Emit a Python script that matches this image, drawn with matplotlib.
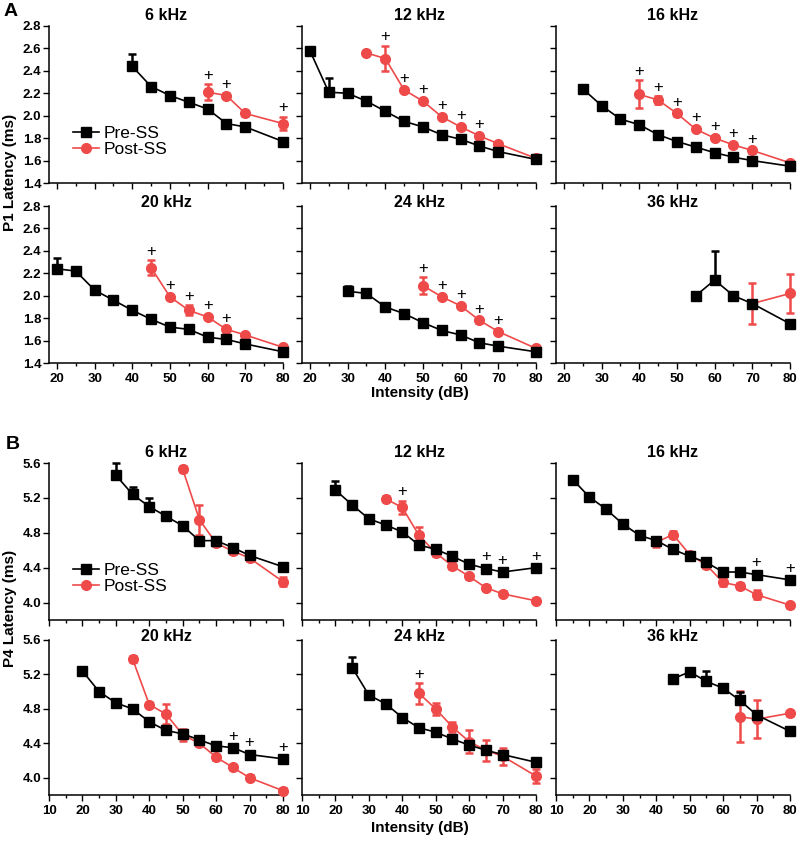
import matplotlib
matplotlib.use("Agg")
import matplotlib.pyplot as plt
from matplotlib.lines import Line2D
from matplotlib.ticker import MultipleLocator

plt.rcParams['font.family'] = ['Liberation Sans', 'DejaVu Sans']

FREQS = ["6 kHz", "12 kHz", "16 kHz", "20 kHz", "24 kHz", "36 kHz"]

# ---------------- P1 latency (panel A) ----------------
P1_PRE_DB = {
    "6 kHz": [40, 45, 50, 55, 60, 65, 70, 80],
    "12 kHz": [20, 25, 30, 35, 40, 45, 50, 55, 60, 65, 70, 80],
    "16 kHz": [25, 30, 35, 40, 45, 50, 55, 60, 65, 70, 80],
    "20 kHz": [20, 25, 30, 35, 40, 45, 50, 55, 60, 65, 70, 80],
    "24 kHz": [30, 35, 40, 45, 50, 55, 60, 65, 70, 80],
    "36 kHz": [55, 60, 65, 70, 80],
}
P1_PRE_MS = {
    "6 kHz": [2.44, 2.26, 2.18, 2.12, 2.06, 1.93, 1.90, 1.77],
    "12 kHz": [2.58, 2.21, 2.20, 2.13, 2.04, 1.95, 1.90, 1.83, 1.79, 1.73, 1.68, 1.61],
    "16 kHz": [2.24, 2.09, 1.97, 1.92, 1.83, 1.77, 1.72, 1.67, 1.63, 1.60, 1.55],
    "20 kHz": [2.24, 2.22, 2.05, 1.96, 1.87, 1.79, 1.72, 1.70, 1.63, 1.61, 1.57, 1.50],
    "24 kHz": [2.04, 2.02, 1.90, 1.84, 1.76, 1.69, 1.65, 1.58, 1.55, 1.50],
    "36 kHz": [2.00, 2.14, 2.00, 1.93, 1.75],
}
P1_PRE_ERR = {
    "6 kHz": [0.11, 0.02, 0.02, 0.02, 0.02, 0.02, 0.02, 0.02],
    "12 kHz": [0.02, 0.13, 0.02, 0.02, 0.02, 0.02, 0.02, 0.02, 0.02, 0.02, 0.02, 0.02],
    "16 kHz": [0.02, 0.02, 0.02, 0.02, 0.02, 0.02, 0.02, 0.02, 0.02, 0.02, 0.02],
    "20 kHz": [0.095, 0.02, 0.02, 0.02, 0.02, 0.02, 0.02, 0.02, 0.02, 0.02, 0.02, 0.02],
    "24 kHz": [0.05, 0.02, 0.02, 0.02, 0.02, 0.02, 0.02, 0.02, 0.02, 0.02],
    "36 kHz": [0.02, 0.26, 0.02, 0.02, 0.02],
}
P1_POST_DB = {
    "6 kHz": [60, 65, 70, 80],
    "12 kHz": [35, 40, 45, 50, 55, 60, 65, 70, 80],
    "16 kHz": [40, 45, 50, 55, 60, 65, 70, 80],
    "20 kHz": [45, 50, 55, 60, 65, 70, 80],
    "24 kHz": [50, 55, 60, 65, 70, 80],
    "36 kHz": [70, 80],
}
P1_POST_MS = {
    "6 kHz": [2.21, 2.18, 2.02, 1.93],
    "12 kHz": [2.56, 2.51, 2.23, 2.13, 1.99, 1.90, 1.82, 1.75, 1.62],
    "16 kHz": [2.19, 2.14, 2.02, 1.88, 1.80, 1.74, 1.69, 1.58],
    "20 kHz": [2.25, 1.99, 1.87, 1.81, 1.70, 1.65, 1.54],
    "24 kHz": [2.09, 1.99, 1.91, 1.78, 1.68, 1.53],
    "36 kHz": [1.93, 2.02],
}
P1_POST_ERR = {
    "6 kHz": [0.07, 0.02, 0.02, 0.06],
    "12 kHz": [0.02, 0.115, 0.02, 0.02, 0.02, 0.02, 0.02, 0.02, 0.02],
    "16 kHz": [0.125, 0.035, 0.02, 0.02, 0.02, 0.02, 0.02, 0.02],
    "20 kHz": [0.065, 0.02, 0.045, 0.02, 0.02, 0.02, 0.02],
    "24 kHz": [0.075, 0.02, 0.02, 0.02, 0.02, 0.02],
    "36 kHz": [0.18, 0.175],
}
P1_SIG = {
    "6 kHz": [60, 65, 80],
    "12 kHz": [40, 45, 50, 55, 60, 65],
    "16 kHz": [40, 45, 50, 55, 60, 65, 70],
    "20 kHz": [45, 50, 55, 60, 65],
    "24 kHz": [50, 55, 60, 65, 70],
    "36 kHz": [],
}

# ---------------- P4 latency (panel B) ----------------
P4_PRE_DB = {
    "6 kHz": [30, 35, 40, 45, 50, 55, 60, 65, 70, 80],
    "12 kHz": [20, 25, 30, 35, 40, 45, 50, 55, 60, 65, 70, 80],
    "16 kHz": [15, 20, 25, 30, 35, 40, 45, 50, 55, 60, 65, 70, 80],
    "20 kHz": [20, 25, 30, 35, 40, 45, 50, 55, 60, 65, 70, 80],
    "24 kHz": [25, 30, 35, 40, 45, 50, 55, 60, 65, 70, 80],
    "36 kHz": [45, 50, 55, 60, 65, 70, 80],
}
P4_PRE_MS = {
    "6 kHz": [5.46, 5.24, 5.10, 4.99, 4.88, 4.71, 4.71, 4.63, 4.54, 4.41],
    "12 kHz": [5.29, 5.12, 4.96, 4.89, 4.81, 4.66, 4.61, 4.53, 4.44, 4.39, 4.35, 4.40],
    "16 kHz": [5.41, 5.21, 5.07, 4.90, 4.77, 4.71, 4.61, 4.53, 4.46, 4.35, 4.35, 4.32, 4.26],
    "20 kHz": [5.24, 5.00, 4.87, 4.80, 4.65, 4.55, 4.51, 4.44, 4.37, 4.35, 4.27, 4.22],
    "24 kHz": [5.28, 4.96, 4.86, 4.70, 4.58, 4.53, 4.45, 4.38, 4.32, 4.27, 4.18],
    "36 kHz": [5.15, 5.23, 5.12, 5.04, 4.90, 4.73, 4.54],
}
P4_PRE_ERR = {
    "6 kHz": [0.135, 0.09, 0.10, 0.04, 0.03, 0.03, 0.03, 0.03, 0.03, 0.03],
    "12 kHz": [0.10, 0.03, 0.03, 0.03, 0.03, 0.03, 0.03, 0.03, 0.03, 0.03, 0.03, 0.03],
    "16 kHz": [0.03, 0.03, 0.04, 0.03, 0.03, 0.03, 0.03, 0.03, 0.03, 0.03, 0.03, 0.03, 0.03],
    "20 kHz": [0.03, 0.03, 0.03, 0.03, 0.03, 0.03, 0.03, 0.03, 0.03, 0.03, 0.03, 0.03],
    "24 kHz": [0.12, 0.03, 0.03, 0.03, 0.03, 0.03, 0.03, 0.03, 0.03, 0.03, 0.03],
    "36 kHz": [0.03, 0.03, 0.12, 0.03, 0.10, 0.03, 0.03],
}
P4_POST_DB = {
    "6 kHz": [50, 55, 60, 65, 70, 80],
    "12 kHz": [35, 40, 45, 50, 55, 60, 65, 70, 80],
    "16 kHz": [40, 45, 50, 55, 60, 65, 70, 80],
    "20 kHz": [35, 40, 45, 50, 55, 60, 65, 70, 80],
    "24 kHz": [45, 50, 55, 60, 65, 70, 80],
    "36 kHz": [65, 70, 80],
}
P4_POST_MS = {
    "6 kHz": [5.53, 4.95, 4.68, 4.59, 4.51, 4.24],
    "12 kHz": [5.19, 5.09, 4.77, 4.57, 4.42, 4.30, 4.17, 4.10, 4.02],
    "16 kHz": [4.69, 4.78, 4.55, 4.43, 4.23, 4.19, 4.09, 3.97],
    "20 kHz": [5.38, 4.85, 4.74, 4.50, 4.40, 4.24, 4.12, 4.00, 3.85],
    "24 kHz": [4.98, 4.80, 4.59, 4.42, 4.32, 4.25, 4.02],
    "36 kHz": [4.71, 4.68, 4.75],
}
P4_POST_ERR = {
    "6 kHz": [0.03, 0.17, 0.03, 0.03, 0.03, 0.05],
    "12 kHz": [0.03, 0.08, 0.10, 0.04, 0.03, 0.03, 0.03, 0.03, 0.03],
    "16 kHz": [0.05, 0.045, 0.03, 0.03, 0.04, 0.03, 0.05, 0.03],
    "20 kHz": [0.03, 0.03, 0.12, 0.07, 0.03, 0.03, 0.03, 0.03, 0.03],
    "24 kHz": [0.12, 0.07, 0.06, 0.13, 0.12, 0.10, 0.08],
    "36 kHz": [0.30, 0.22, 0.03],
}
P4_SIG = {
    "6 kHz": [],
    "12 kHz": [40, 65, 70, 80],
    "16 kHz": [70, 80],
    "20 kHz": [65, 70, 80],
    "24 kHz": [45],
    "36 kHz": [],
}

RED = "#EF4A4A"
W, H = 798, 843
fig = plt.figure(figsize=(W / 100, H / 100), dpi=100)

COL_LEFT = [49, 302, 556]
COL_W = 234
ROWS = [(26, 183), (206, 363), (463, 620), (640, 795)]


def make_ax(col, row):
    top, bot = ROWS[row]
    return fig.add_axes([COL_LEFT[col] / W, 1 - bot / H, COL_W / W, (bot - top) / H])


def draw(ax, pre_x, pre_y, pre_e, post_x, post_y, post_e, sig):
    c1 = ax.errorbar(post_x, post_y, yerr=post_e, color=RED, marker='o', ms=7,
                     lw=1.2, elinewidth=1.8, capsize=3.2, capthick=1.8, zorder=3)
    c2 = ax.errorbar(pre_x, pre_y, yerr=[[0] * len(pre_e), pre_e], color='black',
                     marker='s', ms=7.5, lw=1.2, elinewidth=1.8, capsize=3.2,
                     capthick=1.8, zorder=4)
    for c in (c1, c2):
        for art in c.get_children():
            art.set_clip_on(False)
    for x in sig:
        tops = []
        for xs, ys, es in ((pre_x, pre_y, pre_e), (post_x, post_y, post_e)):
            if x in xs:
                i = xs.index(x)
                tops.append(ys[i] + es[i])
        ax.annotate('+', xy=(x, max(tops)), xytext=(0, 6.5), textcoords='offset points',
                    ha='center', va='center', fontsize=12, zorder=5)


def style(ax, show_x, show_y):
    for s in ('top', 'right'):
        ax.spines[s].set_visible(False)
    for s in ('left', 'bottom'):
        ax.spines[s].set_linewidth(1.1)
    ax.xaxis.set_minor_locator(MultipleLocator(5))
    ax.tick_params(which='major', length=4, width=1.0, labelsize=9.5)
    ax.tick_params(axis='x', which='major', pad=3)
    ax.tick_params(axis='y', which='major', pad=1.5)
    ax.tick_params(which='minor', length=2.5, width=1.0)
    ax.tick_params(axis='y', which='minor', left=False)
    ax.tick_params(labelbottom=show_x, labelleft=show_y)
    for lab in ax.get_xticklabels() + ax.get_yticklabels():
        lab.set_fontweight('bold')


legend_handles = [
    Line2D([], [], color='black', marker='s', ms=7.5, lw=1.2, label='Pre-SS'),
    Line2D([], [], color=RED, marker='o', ms=7, lw=1.2, label='Post-SS'),
]

panels = [
    (P1_PRE_DB, P1_PRE_MS, P1_PRE_ERR, P1_POST_DB, P1_POST_MS, P1_POST_ERR, P1_SIG,
     0, (17.9, 80), [20, 30, 40, 50, 60, 70, 80], (1.4, 2.8), [1.4, 1.6, 1.8, 2.0, 2.2, 2.4, 2.6, 2.8], '{:.1f}'),
    (P4_PRE_DB, P4_PRE_MS, P4_PRE_ERR, P4_POST_DB, P4_POST_MS, P4_POST_ERR, P4_SIG,
     2, (10, 80), [10, 20, 30, 40, 50, 60, 70, 80], (3.8, 5.6), [4.0, 4.4, 4.8, 5.2, 5.6], '{:.1f}'),
]

for (pre_db, pre_ms, pre_err, post_db, post_ms, post_err, sig,
     row0, xlim, xticks, ylim, yticks, yfmt) in panels:
    for k, f in enumerate(FREQS):
        col = k % 3
        row = row0 + k // 3
        ax = make_ax(col, row)
        ax.set_xlim(*xlim)
        ax.set_ylim(*ylim)
        ax.set_xticks(xticks)
        ax.set_yticks(yticks)
        ax.set_yticklabels([yfmt.format(v) for v in yticks])
        draw(ax, pre_db[f], pre_ms[f], pre_err[f], post_db[f], post_ms[f], post_err[f], sig[f])
        style(ax, show_x=(k // 3 == 1), show_y=(col == 0))
        top, bot = ROWS[row]
        dy = 10.5 if k // 3 == 0 else 3.5
        ax.text(0.5, 1 + dy / (bot - top), f, transform=ax.transAxes, ha='center',
                va='center', fontsize=11.5, fontweight='bold')
        if k == 0:
            ax.legend(handles=legend_handles, loc='center left',
                      bbox_to_anchor=(0.065, 0.265), frameon=False, fontsize=12.5,
                      borderpad=0, labelspacing=0.02, handlelength=1.5,
                      handletextpad=0.25)

# panel letters and shared labels
fig.text(11 / W, 1 - 12 / H, 'A', fontsize=14, fontweight='bold', ha='center', va='center')
fig.text(13 / W, 1 - 445 / H, 'B', fontsize=14, fontweight='bold', ha='center', va='center')
fig.text(10 / W, 1 - 172 / H, 'P1 Latency (ms)', rotation=90, fontsize=11,
         fontweight='bold', ha='center', va='center')
fig.text(10 / W, 1 - 608 / H, 'P4 Latency (ms)', rotation=90, fontsize=11,
         fontweight='bold', ha='center', va='center')
fig.text(420 / W, 1 - 393 / H, 'Intensity (dB)', fontsize=11, fontweight='bold',
         ha='center', va='center')
fig.text(420 / W, 1 - 828 / H, 'Intensity (dB)', fontsize=11, fontweight='bold',
         ha='center', va='center')

fig.savefig('out.png', dpi=100)
